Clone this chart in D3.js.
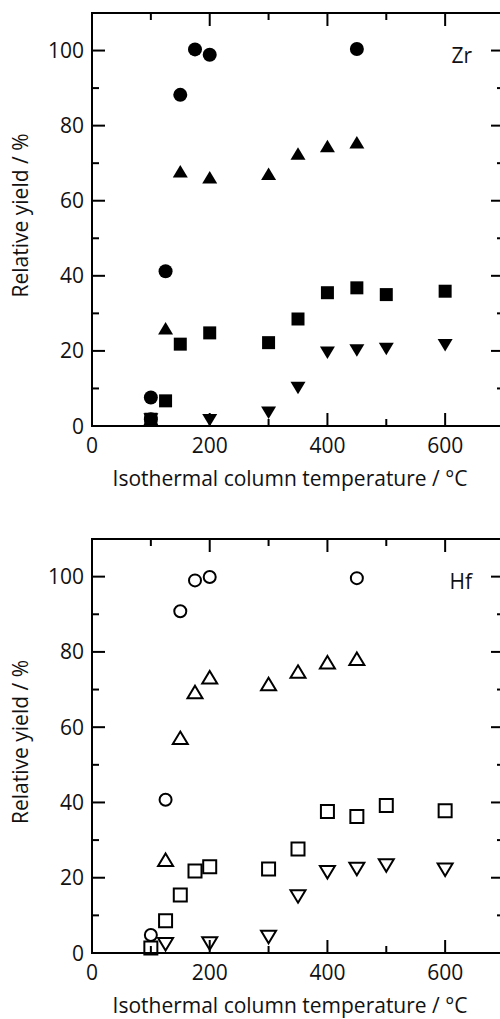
<!DOCTYPE html>
<html><head><meta charset="utf-8">
<script src="https://cdn.jsdelivr.net/npm/d3@7"></script>
<style>body{margin:0;background:#fff}svg{display:block}text{font-family:"Open Sans",sans-serif;fill:#111}</style>
</head><body>
<script>
// Temperatures (°C)
const zrCircleX = [100,100,125,150,175,200,450];
const zrCircleY = [7.6,1.8,41.2,88.2,100.3,98.9,100.4];
const zrTriUpX = [100,125,150,200,300,350,400,450];
const zrTriUpY = [1.8,26.0,67.8,66.2,67.1,72.5,74.5,75.5];
const zrSquareX = [100,125,150,200,300,350,400,450,500,600];
const zrSquareY = [1.8,6.7,21.8,24.8,22.2,28.5,35.5,36.8,35.0,35.9];
const zrTriDownX = [100,200,300,350,400,450,500,600];
const zrTriDownY = [1.8,1.6,3.6,10.2,19.6,20.2,20.6,21.6];

const hfCircleX = [100,125,150,175,200,450];
const hfCircleY = [4.8,40.7,90.8,99.0,99.9,99.6];
const hfTriUpX = [125,150,175,200,300,350,400,450];
const hfTriUpY = [24.7,57.1,69.3,73.2,71.4,74.7,77.2,78.1];
const hfSquareX = [100,125,150,175,200,300,350,400,450,500,600];
const hfSquareY = [1.3,8.6,15.4,21.8,22.9,22.3,27.6,37.6,36.3,39.2,37.8];
const hfTriDownX = [125,200,300,350,400,450,500,600];
const hfTriDownY = [2.4,2.6,4.3,15.1,21.5,22.4,23.3,22.2];

const xMajor = [0,200,400,600];
const xMinor = [100,300,500];
const yMajor = [0,20,40,60,80,100];
const yMinor = [10,30,50,70,90];
const xTitle = "Isothermal column temperature / °C";
const yTitle = "Relative yield / %";

const W = 500, H = 1019;
const svg = d3.select("body").append("svg").attr("width", W).attr("height", H);

const x = d3.scaleLinear().domain([0,700]).range([92,504]);

function shapePath(kind, cx, cy){
  const s = 6.5;
  if(kind==="square"){ return `M${cx-s},${cy-s}H${cx+s}V${cy+s}H${cx-s}Z`; }
  if(kind==="up"){ return `M${cx},${cy-6.5}L${cx+7.5},${cy+6}L${cx-7.5},${cy+6}Z`; }
  if(kind==="down"){ return `M${cx},${cy+6.5}L${cx+7.5},${cy-6}L${cx-7.5},${cy-6}Z`; }
}

function panel(top, bottom, label, series, filled){
  const y = d3.scaleLinear().domain([0,110]).range([bottom, top]);
  const g = svg.append("g");
  const x0 = x.range()[0], x1 = x.range()[1];
  const tk = g.append("g").attr("stroke","#000").attr("stroke-width",2);
  yMajor.forEach(v=>{
    tk.append("line").attr("x1",x0).attr("x2",x0+13).attr("y1",y(v)).attr("y2",y(v));
    tk.append("line").attr("x1",x1).attr("x2",x1-13).attr("y1",y(v)).attr("y2",y(v));
  });
  yMinor.forEach(v=>{
    tk.append("line").attr("x1",x0).attr("x2",x0+7).attr("y1",y(v)).attr("y2",y(v));
    tk.append("line").attr("x1",x1).attr("x2",x1-7).attr("y1",y(v)).attr("y2",y(v));
  });
  xMajor.forEach(v=>{
    tk.append("line").attr("x1",x(v)).attr("x2",x(v)).attr("y1",bottom).attr("y2",bottom-13);
    tk.append("line").attr("x1",x(v)).attr("x2",x(v)).attr("y1",top).attr("y2",top+13);
  });
  xMinor.forEach(v=>{
    tk.append("line").attr("x1",x(v)).attr("x2",x(v)).attr("y1",bottom).attr("y2",bottom-7);
    tk.append("line").attr("x1",x(v)).attr("x2",x(v)).attr("y1",top).attr("y2",top+7);
  });
  g.append("rect").attr("x",x0).attr("y",top).attr("width",x1-x0).attr("height",bottom-top)
    .attr("fill","none").attr("stroke","#000").attr("stroke-width",2);
  yMajor.forEach(v=>{
    g.append("text").attr("x",84).attr("y",y(v)).attr("dy","0.36em").attr("text-anchor","end")
      .attr("font-size",21).text(v);
  });
  xMajor.forEach(v=>{
    g.append("text").attr("x",x(v)).attr("y",bottom+27).attr("text-anchor","middle")
      .attr("font-size",21).text(v);
  });
  g.append("text").attr("x",290).attr("y",bottom+60).attr("text-anchor","middle")
    .attr("font-size",21).text(xTitle);
  g.append("text").attr("transform",`translate(28,${(top+bottom)/2-4}) rotate(-90)`)
    .attr("text-anchor","middle").attr("font-size",21).text(yTitle);
  g.append("text").attr("x",472).attr("y",top+50).attr("text-anchor","end")
    .attr("font-size",21).text(label);
  const mk = g.append("g");
  series.forEach(([kind, xs, ys])=>{
    xs.forEach((xv,i)=>{
      const cx = x(xv), cy = y(ys[i]);
      const el = kind==="circle"
        ? mk.append("circle").attr("cx",cx).attr("cy",cy).attr("r", filled?7:6)
        : mk.append("path").attr("d", shapePath(kind,cx,cy));
      if(filled) el.attr("fill","#000");
      else el.attr("fill","none").attr("stroke","#000").attr("stroke-width",2);
    });
  });
}

panel(13, 426, "Zr", [
  ["circle", zrCircleX, zrCircleY],
  ["up", zrTriUpX, zrTriUpY],
  ["square", zrSquareX, zrSquareY],
  ["down", zrTriDownX, zrTriDownY]
], true);

panel(539, 953, "Hf", [
  ["circle", hfCircleX, hfCircleY],
  ["up", hfTriUpX, hfTriUpY],
  ["square", hfSquareX, hfSquareY],
  ["down", hfTriDownX, hfTriDownY]
], false);
</script>
</body></html>
